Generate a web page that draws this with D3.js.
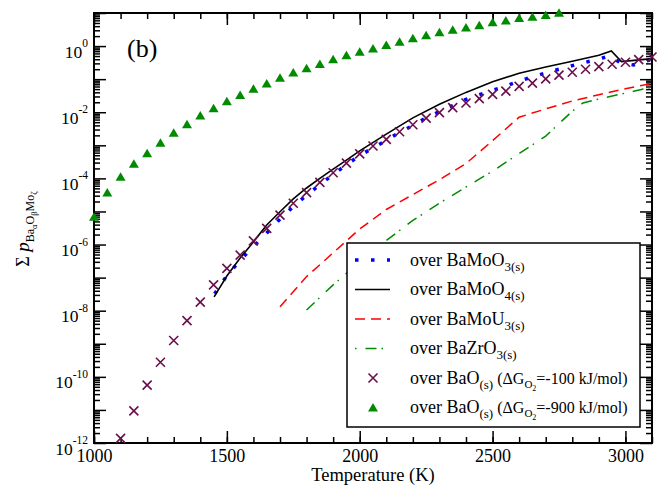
<!DOCTYPE html>
<html><head><meta charset="utf-8">
<script src="https://cdn.jsdelivr.net/npm/d3@7"></script>
<style>
body{margin:0;background:#fff;}
svg{display:block;}
svg text{font-family:"Liberation Serif","Times New Roman",serif;}
</style></head><body>
<svg id="c" width="659" height="487"></svg>
<script>
// ---- data (log10 of summed partial pressure) ----
const tBaMoO3 = [1454,1500,1550,1600,1650,1700,1750,1800,1850,1900,1950,2000,2050,2100,2150,2200,2250,2300,2350,2400,2450,2500,2550,2600,2650,2700,2750,2800,2850,2900,2940,2980,3030,3100];
const logBaMoO3 = [-7.49,-6.94,-6.48,-6.06,-5.65,-5.23,-4.85,-4.51,-4.19,-3.88,-3.59,-3.31,-3.08,-2.85,-2.61,-2.40,-2.17,-1.98,-1.80,-1.61,-1.47,-1.34,-1.21,-1.06,-0.93,-0.81,-0.70,-0.59,-0.49,-0.39,-0.30,-0.50,-0.57,-0.40];

const tBaMoO4 = [1452,1500,1550,1600,1650,1700,1750,1800,1850,1900,1950,2000,2100,2200,2300,2400,2500,2600,2700,2800,2900,2947,2985,3100];
const logBaMoO4 = [-7.58,-6.95,-6.41,-5.92,-5.41,-5.01,-4.62,-4.29,-4.00,-3.72,-3.45,-3.17,-2.66,-2.17,-1.76,-1.40,-1.08,-0.82,-0.63,-0.46,-0.28,-0.15,-0.47,-0.38];

const tBaMoU3 = [1700,1800,1900,2000,2100,2200,2300,2400,2500,2600,2700,2800,2900,3000,3100];
const logBaMoU3 = [-7.88,-6.97,-6.25,-5.53,-4.94,-4.49,-4.04,-3.55,-2.86,-2.15,-1.90,-1.66,-1.47,-1.29,-1.13];

const tBaZrO3 = [1800,1900,2000,2100,2200,2300,2400,2500,2600,2700,2800,2840,2900,3000,3100];
const logBaZrO3 = [-7.98,-7.22,-6.53,-5.88,-5.27,-4.75,-4.26,-3.78,-3.25,-2.72,-1.97,-1.72,-1.60,-1.42,-1.24];

const tBaO100 = [1100,1150,1200,1250,1300,1350,1400,1450,1500,1550,1600,1650,1700,1750,1800,1850,1900,1950,2000,2050,2100,2150,2200,2250,2300,2350,2400,2450,2500,2550,2600,2650,2700,2750,2800,2850,2900,2950,3000,3050,3100];
const logBaO100 = [-11.86,-11.03,-10.25,-9.56,-8.90,-8.30,-7.74,-7.22,-6.72,-6.32,-5.89,-5.51,-5.11,-4.75,-4.43,-4.12,-3.83,-3.54,-3.26,-3.02,-2.82,-2.59,-2.38,-2.18,-2.01,-1.86,-1.72,-1.59,-1.46,-1.36,-1.22,-1.12,-0.99,-0.88,-0.79,-0.70,-0.62,-0.55,-0.49,-0.41,-0.33];

const tBaO900 = [1000,1050,1100,1150,1200,1250,1300,1350,1400,1450,1500,1550,1600,1650,1700,1750,1800,1850,1900,1950,2000,2050,2100,2150,2200,2250,2300,2350,2400,2450,2500,2550,2600,2650,2700,2750];
const logBaO900 = [-5.16,-4.43,-3.95,-3.56,-3.24,-2.92,-2.62,-2.36,-2.10,-1.88,-1.67,-1.48,-1.29,-1.13,-0.96,-0.80,-0.67,-0.54,-0.40,-0.28,-0.17,-0.07,0.03,0.13,0.24,0.33,0.42,0.49,0.56,0.63,0.72,0.77,0.85,0.89,0.94,1.01];

const xMajorTicks = [1000,1500,2000,2500,3000];
const xMinorTicks = d3.range(1000, 3101, 100);
const yMajorExps = d3.range(-12, 2, 1);
const yLabelExps = [-12,-10,-8,-6,-4,-2,0];

const legendLabels = [
  {main:"over BaMoO", sub:"3(s)"},
  {main:"over BaMoO", sub:"4(s)"},
  {main:"over BaMoU", sub:"3(s)"},
  {main:"over BaZrO", sub:"3(s)"},
  {main:"over BaO", sub:"(s)", dg:"=-100 kJ/mol)"},
  {main:"over BaO", sub:"(s)", dg:"=-900 kJ/mol)"}
];

// ---- layout ----
const FONT = "Liberation Serif, Times New Roman, serif";
const M = {left:94, right:652, top:13, bottom:443};
const x = d3.scaleLinear().domain([1000,3100]).range([M.left, M.right]);
const y = d3.scaleLog().domain([1e-12,1e1]).range([M.bottom, M.top]);
const svg = d3.select("#c");

const zip = (ts, ls) => ts.map((t,i)=>({t, v:Math.pow(10, ls[i])}));
const line = d3.line().x(d=>x(d.t)).y(d=>y(d.v));

const colBlue="#0000ff", colRed="#ff0000", colGreen="#008b00", colPurple="#6b0f4c";

// ---- axes ----
const yMinor = [];
for (let k=-12;k<1;k++) for (let m=2;m<=9;m++) yMinor.push(m*Math.pow(10,k));
const yMajor = yMajorExps.map(k=>Math.pow(10,k));

function styleAxis(g){
  g.attr("font-family", FONT);
  g.select(".domain").remove();
  g.selectAll(".tick line").attr("stroke","#000").attr("stroke-width",1.5);
}
svg.append("g").attr("transform",`translate(0,${M.bottom})`)
  .call(d3.axisBottom(x).tickValues(xMinorTicks).tickSize(-6).tickFormat("")).call(styleAxis);
svg.append("g").attr("transform",`translate(0,${M.bottom})`)
  .call(d3.axisBottom(x).tickValues(xMajorTicks).tickSize(-12).tickPadding(6).tickFormat(d3.format("d")))
  .call(styleAxis)
  .call(g=>g.selectAll("text").attr("font-size",18).attr("font-family",FONT).attr("fill","#000"));
svg.append("g").attr("transform",`translate(0,${M.top})`)
  .call(d3.axisTop(x).tickValues(xMinorTicks).tickSize(-6).tickFormat("")).call(styleAxis);
svg.append("g").attr("transform",`translate(0,${M.top})`)
  .call(d3.axisTop(x).tickValues(xMajorTicks).tickSize(-12).tickFormat("")).call(styleAxis);

svg.append("g").attr("transform",`translate(${M.left},0)`)
  .call(d3.axisLeft(y).tickValues(yMinor).tickSize(-6).tickFormat("")).call(styleAxis);
svg.append("g").attr("transform",`translate(${M.left},0)`)
  .call(d3.axisLeft(y).tickValues(yMajor).tickSize(-12).tickFormat("")).call(styleAxis);
svg.append("g").attr("transform",`translate(${M.right},0)`)
  .call(d3.axisRight(y).tickValues(yMinor).tickSize(-6).tickFormat("")).call(styleAxis);
svg.append("g").attr("transform",`translate(${M.right},0)`)
  .call(d3.axisRight(y).tickValues(yMajor).tickSize(-12).tickFormat("")).call(styleAxis);

// y tick labels with superscripts
yLabelExps.forEach(k=>{
  const yy = y(Math.pow(10,k));
  const t = svg.append("text").attr("x",88).attr("y",yy+11.5).attr("text-anchor","end")
    .attr("fill","#000").attr("font-family",FONT);
  t.append("tspan").attr("font-size",17.5).text("10");
  t.append("tspan").attr("font-size",11.5).attr("dy",-10.5).text(String(k));
});

// frame
svg.append("rect").attr("x",M.left).attr("y",M.top).attr("width",M.right-M.left).attr("height",M.bottom-M.top)
  .attr("fill","none").attr("stroke","#000").attr("stroke-width",2);

// ---- series ----
const dashBlue="3.5,12.5", dashRed="10,6", dashGreen="11,5,1.5,9";
svg.append("path").datum(zip(tBaMoO3,logBaMoO3)).attr("d",line).attr("fill","none")
  .attr("stroke",colBlue).attr("stroke-width",3.5).attr("stroke-dasharray",dashBlue);
svg.append("path").datum(zip(tBaMoO4,logBaMoO4)).attr("d",line).attr("fill","none")
  .attr("stroke","#000").attr("stroke-width",1.6);
svg.append("path").datum(zip(tBaMoU3,logBaMoU3)).attr("d",line).attr("fill","none")
  .attr("stroke",colRed).attr("stroke-width",1.5).attr("stroke-dasharray",dashRed);
svg.append("path").datum(zip(tBaZrO3,logBaZrO3)).attr("d",line).attr("fill","none")
  .attr("stroke",colGreen).attr("stroke-width",1.5).attr("stroke-dasharray",dashGreen);

const crossPath = "M-4.5,-4.5L4.5,4.5M-4.5,4.5L4.5,-4.5";
const triPath = "M0,-4.5L5,4L-5,4Z";
svg.append("g").selectAll("path").data(zip(tBaO100,logBaO100)).join("path")
  .attr("transform",d=>`translate(${x(d.t)},${y(d.v)})`).attr("d",crossPath)
  .attr("stroke",colPurple).attr("stroke-width",1.6).attr("fill","none");
svg.append("g").selectAll("path").data(zip(tBaO900,logBaO900)).join("path")
  .attr("transform",d=>`translate(${x(d.t)},${y(d.v)})`).attr("d",triPath)
  .attr("fill",colGreen).attr("stroke","none");

// ---- legend ----
const lg = svg.append("g");
lg.append("rect").attr("x",347).attr("y",243).attr("width",293).attr("height",184)
  .attr("fill","#fff").attr("stroke","#000").attr("stroke-width",1.5);
const rowY = i => 260 + i*29.5;
const sampleStyles = [
  {stroke:colBlue, w:3.5, dash:dashBlue, off:0},
  {stroke:"#000", w:1.6, dash:null, off:0},
  {stroke:colRed, w:1.5, dash:dashRed, off:0},
  {stroke:colGreen, w:1.5, dash:dashGreen, off:16}
];
sampleStyles.forEach((s,i)=>{
  lg.append("line").attr("x1",355).attr("x2",390).attr("y1",rowY(i)).attr("y2",rowY(i))
    .attr("stroke",s.stroke).attr("stroke-width",s.w).attr("stroke-dasharray",s.dash)
    .attr("stroke-dashoffset",s.off);
});
lg.append("path").attr("transform",`translate(373,${rowY(4)})`).attr("d",crossPath)
  .attr("stroke",colPurple).attr("stroke-width",1.6).attr("fill","none");
lg.append("path").attr("transform",`translate(373,${rowY(5)})`).attr("d",triPath).attr("fill",colGreen);

legendLabels.forEach((L,i)=>{
  const t = lg.append("text").attr("x",410).attr("y",rowY(i)+5.5).attr("fill","#000").attr("font-family",FONT);
  t.append("tspan").attr("font-size",18).text(L.main);
  t.append("tspan").attr("font-size",13).attr("dy",5).text(L.sub);
  if (L.dg){
    t.append("tspan").attr("font-size",16).attr("dy",-5).text(" (ΔG");
    t.append("tspan").attr("font-size",11).attr("dy",4).text("O");
    t.append("tspan").attr("font-size",8).attr("dy",3).text("2");
    t.append("tspan").attr("font-size",16).attr("dy",-7).text(L.dg);
  }
});

// ---- texts ----
svg.append("text").attr("x",(M.left+M.right)/2).attr("y",481).attr("text-anchor","middle")
  .attr("font-family",FONT).attr("font-size",18.5).text("Temperature (K)");
svg.append("text").attr("x",127).attr("y",57).attr("font-family",FONT).attr("font-size",26).text("(b)");

const yt = svg.append("text").attr("transform","translate(29,229) rotate(-90)").attr("text-anchor","middle")
  .attr("font-family",FONT);
yt.append("tspan").attr("font-size",18).text("Σ ");
yt.append("tspan").attr("font-size",19).attr("font-style","italic").text("p");
yt.append("tspan").attr("font-size",12).attr("dy",5).text("Ba");
yt.append("tspan").attr("font-size",8.5).attr("dy",3).text("α");
yt.append("tspan").attr("font-size",12).attr("dy",-3).text("O");
yt.append("tspan").attr("font-size",8.5).attr("dy",3).text("β");
yt.append("tspan").attr("font-size",12).attr("dy",-3).text("Mo");
yt.append("tspan").attr("font-size",8.5).attr("dy",3).text("ζ");
</script>
</body></html>
